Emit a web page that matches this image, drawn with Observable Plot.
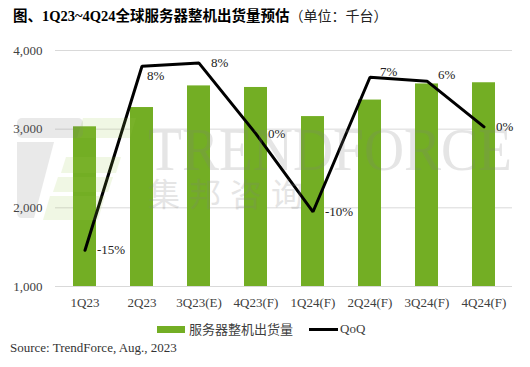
<!DOCTYPE html>
<html>
<head>
<meta charset="utf-8">
<script src="https://cdn.jsdelivr.net/npm/d3@7"></script>
<script src="https://cdn.jsdelivr.net/npm/@observablehq/plot@0.6"></script>
<style>
  html, body { margin: 0; padding: 0; background: #fff; }
  #wrap { position: relative; width: 530px; height: 367px; background: #fff; overflow: hidden; }
  #title { position: absolute; left: 13px; top: 6px; font-family: "Liberation Serif", "Noto Sans CJK SC", serif; font-size: 14.5px; line-height: 18px; color: #000; white-space: nowrap; }
  #title b { font-weight: bold; }
  #title span { font-family: "Noto Sans CJK SC", sans-serif; font-weight: normal; font-size: 14px; color: #222; }
  #chart { position: absolute; left: 0; top: 30px; }
  #wm { position: absolute; left: 0; top: 0; pointer-events: none; }
  #legend { position: absolute; top: 321px; left: 0; width: 530px; height: 16px; font-size: 13px; line-height: 16px; color: #404040; }
  #legend .sw1 { position: absolute; left: 157px; top: 5px; width: 28px; height: 7px; background: #73ae24; }
  #legend .t1 { position: absolute; left: 189px; top: 0; font-family: "Noto Sans CJK SC", sans-serif; }
  #legend .sw2 { position: absolute; left: 309px; top: 7px; width: 29px; height: 3px; background: #000; }
  #legend .t2 { position: absolute; left: 340px; top: 0; font-family: "Liberation Serif", serif; }
  #source { position: absolute; left: 10px; top: 340px; font-family: "Liberation Serif", serif; font-size: 13px; line-height: 16px; color: #333; }
</style>
</head>
<body>
<div id="wrap">
  <div id="title"><b>图、1Q23~4Q24全球服务器整机出货量预估</b><span>（单位：千台）</span></div>
  <div id="chart"></div>
  <svg id="wm" width="530" height="367">
    <g opacity="0.16" fill="#7a7a7a">
      <rect x="17" y="118" width="66" height="20" rx="5"/>
      <path d="M17,142 L54,142 L34,218 L22,218 Q17,218 17,212 Z"/>
    </g>
    <g opacity="0.14" fill="#9cc84a">
      <path d="M83,118 L136,118 L130,138 L77,138 Z"/>
      <path d="M66,157 L121,157 L116,173 L61,173 Z"/>
      <path d="M58,177 L113,177 L108,192 L53,192 Z"/>
      <path d="M50,196 L105,196 L98,220 L43,220 Z"/>
    </g>
    <text x="148" y="170" font-family="Liberation Serif" font-size="62" textLength="364" lengthAdjust="spacingAndGlyphs" fill="#808080" opacity="0.2">TRENDFORCE</text>
    <text x="148" y="206" font-family="Noto Sans CJK SC" font-size="32" letter-spacing="9" fill="#808080" opacity="0.2">集邦咨询</text>
  </svg>
  <div id="legend">
    <div class="sw1"></div><div class="t1">服务器整机出货量</div>
    <div class="sw2"></div><div class="t2">QoQ</div>
  </div>
  <div id="source">Source: TrendForce, Aug., 2023</div>
</div>
<script>
// Data
const quarters = ["1Q23", "2Q23", "3Q23(E)", "4Q23(F)", "1Q24(F)", "2Q24(F)", "3Q24(F)", "4Q24(F)"];
const shipments = [3030, 3275, 3550, 3530, 3160, 3370, 3575, 3590];
const qoq = [-15.4, 8.0, 8.4, -0.6, -10.5, 6.6, 6.1, 0.3];
const qoqLabels = ["-15%", "8%", "8%", "0%", "-10%", "7%", "6%", "0%"];
const yTicks = [1000, 2000, 3000, 4000];

const data = quarters.map((q, i) => ({ q, v: shipments[i], qoq: qoq[i], label: qoqLabels[i], i }));

// secondary (hidden) axis: -20%..10% maps onto 1,000..4,000
const qy = d => 3000 + 100 * d.qoq;

const labelStyle = { x: "q", y: qy, text: "label", textAnchor: "start", fontSize: 13, fill: "#222", fontFamily: "Liberation Serif" };

const chart = Plot.plot({
  width: 530,
  height: 290,
  marginTop: 20,
  marginBottom: 34,
  marginLeft: 55,
  marginRight: 18,
  style: { fontFamily: "Liberation Serif", fontSize: "13px", color: "#404040", background: "transparent" },
  x: { domain: quarters, paddingInner: 0.6, paddingOuter: 0.3, label: null, tickSize: 0, tickPadding: 11 },
  y: { domain: [1000, 4000], ticks: yTicks, tickFormat: d3.format(","), label: null, tickSize: 0, tickPadding: 13 },
  marks: [
    Plot.ruleY(yTicks, { stroke: "#d9d9d9", strokeWidth: 1 }),
    Plot.barY(data, { x: "q", y1: 1000, y2: "v", fill: "#73ae24" }),
    Plot.line(data, { x: "q", y: qy, stroke: "#000", strokeWidth: 3, strokeLinejoin: "miter" }),
    Plot.text(data, { ...labelStyle, filter: d => [0, 2, 3, 4, 7].includes(d.i), dx: 12 }),
    Plot.text(data, { ...labelStyle, filter: d => d.i === 1, dx: 5, dy: 10 }),
    Plot.text(data, { ...labelStyle, filter: d => d.i === 5, dx: 10, dy: -5 }),
    Plot.text(data, { ...labelStyle, filter: d => d.i === 6, dx: 11, dy: -6 })
  ]
});
document.getElementById("chart").appendChild(chart);
</script>
</body>
</html>
